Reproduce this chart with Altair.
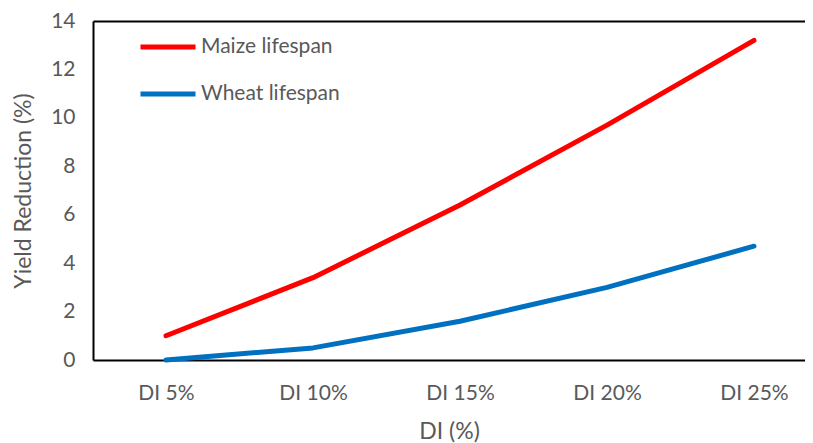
import altair as alt
import pandas as pd

categories = ["DI 5%", "DI 10%", "DI 15%", "DI 20%", "DI 25%"]
maize = [1.0, 3.4, 6.4, 9.7, 13.2]
wheat = [0.0, 0.5, 1.6, 3.0, 4.7]
series_names = ["Maize lifespan", "Wheat lifespan"]
colors = ["#FF0000", "#0070C0"]

rows = []
for name, vals in zip(series_names, [maize, wheat]):
    for i, (c, v) in enumerate(zip(categories, vals)):
        rows.append({"DI": c, "idx": i, "value": v, "series": name})
df = pd.DataFrame(rows)

FONT = "Lato"
GREY = "#595959"
FS = 21
TFS = 23
label_expr = "[" + ",".join("'%s'" % c for c in categories) + "][datum.value]"
xscale = alt.Scale(domain=[-0.4966, 4.347], nice=False, zero=False)
yscale = alt.Scale(domain=[0, 14])

lines = alt.Chart(df).mark_line(strokeWidth=5, strokeCap="round", strokeJoin="round").encode(
    x=alt.X("idx:Q", scale=xscale,
            axis=alt.Axis(title="DI (%)", values=list(range(len(categories))), labelExpr=label_expr,
                          labelAngle=0, ticks=False, grid=False,
                          domain=True, domainColor="black", domainWidth=2,
                          labelFont=FONT, labelFontSize=FS, labelColor=GREY, labelPadding=22,
                          labelFlush=False, labelOverlap=False,
                          titleFont=FONT, titleFontSize=TFS, titleColor=GREY, titleFontWeight="normal",
                          titleY=71, titleBaseline="middle")),
    y=alt.Y("value:Q", scale=yscale,
            axis=alt.Axis(title="Yield Reduction (%)", values=[0, 2, 4, 6, 8, 10, 12, 14],
                          grid=False, ticks=False,
                          domain=True, domainColor="black", domainWidth=2,
                          labelFont=FONT, labelFontSize=FS, labelColor=GREY, labelPadding=18,
                          labelFlush=False,
                          titleFont=FONT, titleFontSize=TFS, titleColor=GREY, titleFontWeight="normal",
                          titleX=-70, titleY=169.5, titleAngle=-90, titleAlign="center",
                          titleBaseline="middle")),
    color=alt.Color("series:N", sort=series_names,
                    scale=alt.Scale(domain=series_names, range=colors),
                    legend=alt.Legend(title=None, orient="none", legendX=45, legendY=-4,
                                      symbolType="stroke", symbolSize=3025, symbolStrokeWidth=5,
                                      labelFont=FONT, labelFontSize=FS, labelColor=GREY,
                                      labelOffset=3, rowPadding=7)),
)

top = alt.Chart(df).mark_line(opacity=0).encode(
    x=alt.X("idx:Q", scale=xscale,
            axis=alt.Axis(orient="top", title=None, labels=False, ticks=False, grid=False,
                          domain=True, domainColor="black", domainWidth=2)),
    y=alt.Y("value:Q", scale=yscale),
    detail="series:N",
)

chart = alt.layer(lines, top).resolve_axis(x="independent").properties(
    width=712, height=339,
    background="white",
    autosize=alt.AutoSizeParams(type="none"),
    padding={"left": 85, "top": 13, "right": 0, "bottom": 88},
).configure_view(stroke=None)

chart.save("out.html", embed_options={"renderer": "svg", "actions": False})
